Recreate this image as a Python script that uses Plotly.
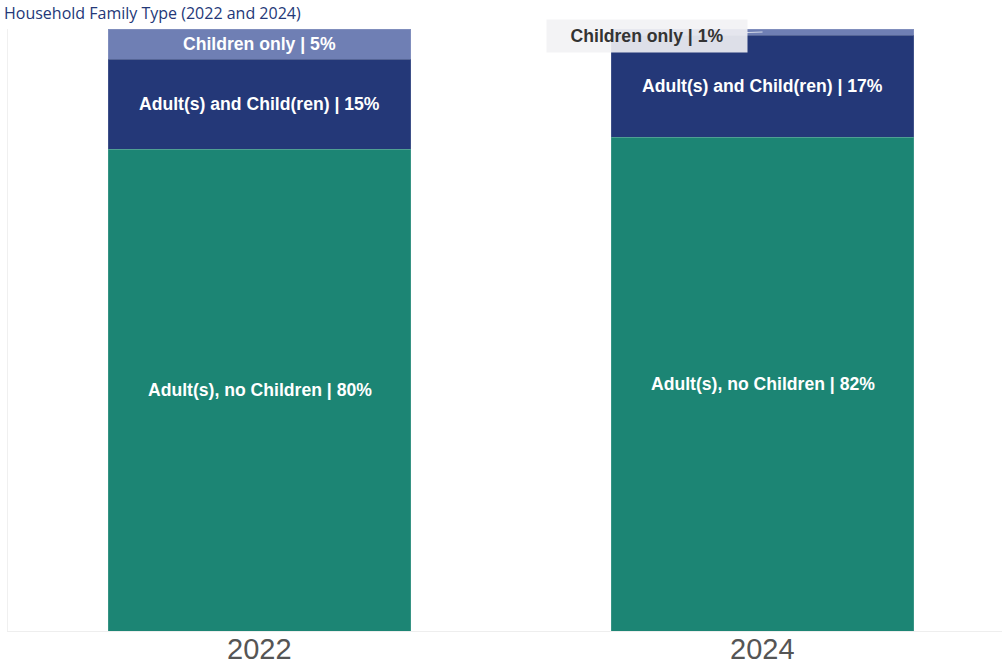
import plotly.graph_objects as go

# Household composition shares (%) by survey year
years = ["2022", "2024"]
segment_names = ["Adult(s), no Children", "Adult(s) and Child(ren)", "Children only"]
adults_no_children = [80, 82]
adults_and_children = [15, 17]
children_only = [5, 1]

segment_values = [adults_no_children, adults_and_children, children_only]
segment_colors = ["#1c8574", "#243878", "#6f7fb4"]

TITLE = "Household Family Type (2022 and 2024)"
LABEL_FONT = "Liberation Sans, Arial, sans-serif"

fig = go.Figure()
x_idx = list(range(len(years)))
for name, vals, col in zip(segment_names, segment_values, segment_colors):
    fig.add_trace(go.Bar(
        x=x_idx, y=vals, name=name,
        marker=dict(color=col, line=dict(color="rgba(255,255,255,0.12)", width=1)),
        width=0.602,
        hoverinfo="skip",
    ))

# Segment labels placed at the middle of each stacked piece
annotations = []
for i in x_idx:
    base = 0
    for name, vals in zip(segment_names, segment_values):
        v = vals[i]
        mid = base + v / 2
        label = f"<b>{name} | {v}%</b>"
        if v >= 3:
            annotations.append(dict(
                x=i, y=mid, xref="x", yref="y", text=label, showarrow=False,
                font=dict(family=LABEL_FONT, size=17.6, color="white"),
            ))
        else:
            # thin segment: callout box with a short leader line
            annotations.append(dict(
                x=i, y=mid, xref="x", yref="y", text=label,
                showarrow=True, arrowhead=0, arrowwidth=1,
                arrowcolor="rgba(255,255,255,0.7)",
                ax=-116, ay=4,
                bgcolor="rgba(242,242,244,0.9)", width=198, height=30,
                font=dict(family=LABEL_FONT, size=17.6, color="#333333"),
            ))
        base += v

# Year labels under each bar
for i, yr in zip(x_idx, years):
    annotations.append(dict(
        x=i, y=0, xref="x", yref="paper", yanchor="middle", yshift=-18,
        text=yr, showarrow=False, height=30, borderpad=0,
        font=dict(family="Liberation Sans, Arial, sans-serif", size=29, color="#555555"),
    ))

# Chart title in the narrow strip above the bars
annotations.append(dict(
    x=0, y=1, xref="paper", yref="paper", xanchor="left", yanchor="bottom",
    xshift=-6, yshift=3, text=TITLE, showarrow=False,
    font=dict(family="Open Sans, sans-serif", size=16, color="#243878"),
))

fig.update_layout(
    barmode="stack",
    width=1002, height=666,
    margin=dict(l=8, r=0, t=29, b=35),
    paper_bgcolor="white", plot_bgcolor="white",
    showlegend=False,
    annotations=annotations,
    xaxis=dict(
        range=[-0.5, 1.476], automargin=False, showticklabels=False,
        showgrid=False, zeroline=False,
        showline=True, linecolor="#eeeeee", linewidth=1, ticks="",
    ),
    yaxis=dict(
        range=[0, 100], showticklabels=False, showgrid=False, zeroline=False,
        showline=True, linecolor="#f0f0f0", linewidth=1, automargin=False,
    ),
)

fig.write_html("out.html")
